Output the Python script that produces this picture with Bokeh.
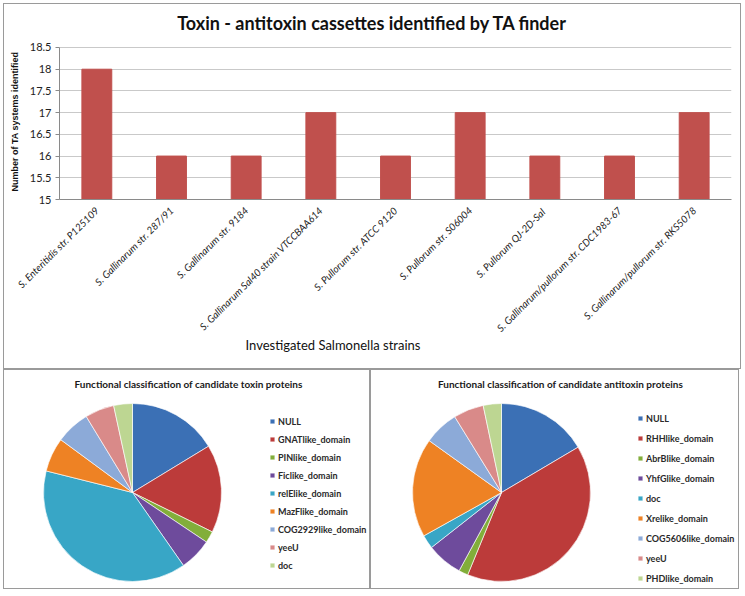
import numpy as np
from bokeh.plotting import figure
from bokeh.models import ColumnDataSource, FactorRange, Range1d, FixedTicker, Label, Title
from bokeh.layouts import column, row
from bokeh.embed import file_html
from bokeh.resources import INLINE

# ---------------- data ----------------
strains = [
    "S. Enteritidis str. P125109",
    "S. Gallinarum str. 287/91",
    "S. Gallinarum str. 9184",
    "S. Gallinarum Sal40 strain VTCCBAA614",
    "S. Pullorum str. ATCC 9120",
    "S. Pullorum str. S06004",
    "S. Pullorum  QJ-2D-Sal",
    "S. Gallinarum/pullorum str. CDC1983-67",
    "S. Gallinarum/pullorum str. RKS5078",
]
ta_counts = [18, 16, 16, 17, 16, 17, 16, 16, 17]
y_ticks = [15, 15.5, 16, 16.5, 17, 17.5, 18, 18.5]
y_tick_labels = ["15", "15.5", "16", "16.5", "17", "17.5", "18", "18.5"]

toxin_classes = ["NULL", "GNATlike_domain", "PINlike_domain", "Ficlike_domain",
                 "relElike_domain", "MazFlike_domain", "COG2929like_domain", "yeeU", "doc"]
toxin_share = [16.3, 16.0, 2.1, 5.9, 38.6, 6.2, 6.2, 5.3, 3.4]

antitoxin_classes = ["NULL", "RHHlike_domain", "AbrBlike_domain", "YhfGlike_domain",
                     "doc", "Xrelike_domain", "COG5606like_domain", "yeeU", "PHDlike_domain"]
antitoxin_share = [16.5, 39.7, 1.7, 6.5, 2.5, 18.0, 6.3, 5.5, 3.3]

slice_colors = ["#3B70B5", "#BC3B3A", "#82AE3A", "#6E4B9C", "#38A6C6",
                "#EE8224", "#8CAAD8", "#D98A89", "#BDD692"]

FONT = "Lato"
BORDER = {"border": "1px solid #9a9a9a"}

# ---------------- bar chart ----------------
# the frame reaches the top of the panel; the value axis stops at 18.5
src = ColumnDataSource(dict(strain=strains, count=ta_counts))
p = figure(x_range=FactorRange(factors=strains, range_padding=0),
           y_range=Range1d(15, 19.49), width=738, height=366,
           output_backend="svg", toolbar_location=None,
           min_border_left=55, min_border_right=11, min_border_top=0,
           min_border_bottom=171, styles=BORDER)
p.vbar(x="strain", top="count", bottom=15, width=0.4, source=src,
       fill_color="#C0504D", line_color="#C0504D")

p.add_layout(Label(x=4.19, y=19.07, text="Toxin - antitoxin cassettes identified by TA finder",
                   text_align="center", text_baseline="middle", text_font=FONT,
                   text_font_size="18px", text_font_style="bold", text_color="#111111"))

p.outline_line_color = None
p.xgrid.grid_line_color = None
p.ygrid.grid_line_color = "#C9C9C9"
p.yaxis.ticker = FixedTicker(ticks=y_ticks)
p.yaxis.bounds = (15, 18.5)
p.yaxis.major_label_overrides = dict(zip(y_ticks, y_tick_labels))
p.yaxis.minor_tick_line_color = None
p.yaxis.major_tick_in = 0
p.yaxis.major_tick_out = 4
p.yaxis.major_label_standoff = 4
p.axis.axis_line_color = "#8A8A8A"
p.axis.major_tick_line_color = "#8A8A8A"
p.axis.major_label_text_font = FONT
p.axis.major_label_text_font_size = "11px"
p.axis.major_label_text_color = "#222222"
p.xaxis.major_label_orientation = np.pi / 4
p.xaxis.major_label_text_font_style = "italic"
p.xaxis.major_label_text_font_size = "10px"
p.xaxis.major_tick_line_color = None
p.xaxis.major_label_standoff = 3

p.add_layout(Title(text="Number of TA systems identified", align="left", offset=8,
                   vertical_align="top", text_font="Liberation Sans",
                   text_font_size="9px", text_font_style="bold",
                   text_color="#111111", standoff=10), "left")

p.add_layout(Title(text="Investigated  Salmonella strains", align="left", offset=186,
                   vertical_align="top", text_font=FONT, text_font_size="13px",
                   text_font_style="normal", text_color="#111111", standoff=-10), "below")


# ---------------- pies ----------------
def pie_fig(title, classes, shares, w, h, cx, cy, r, tx, leg_x, leg_y, spacing):
    f = figure(width=w, height=h, x_range=Range1d(0, w), y_range=Range1d(0, h),
               output_backend="svg", toolbar_location=None, min_border=0,
               x_axis_location=None, y_axis_location=None, styles=BORDER)
    f.grid.visible = False
    f.outline_line_color = None
    frac = np.array(shares, dtype=float) / sum(shares)
    cum = np.cumsum(frac)
    start = np.pi / 2 - 2 * np.pi * np.concatenate([[0.0], cum[:-1]])
    end = np.pi / 2 - 2 * np.pi * cum
    s = ColumnDataSource(dict(cat=classes, share=shares, start=start, end=end,
                              color=slice_colors[:len(classes)]))
    f.wedge(x=cx, y=cy, radius=r, start_angle="start", end_angle="end",
            direction="clock", fill_color="color", line_color="white",
            line_width=0.8, line_alpha=0.8, source=s, legend_field="cat")
    f.add_layout(Label(x=tx, y=207, text=title, text_align="center",
                       text_baseline="middle", text_font=FONT, text_font_style="bold",
                       text_font_size="10px", text_color="#1a1a1a"))
    lg = f.legend[0]
    lg.location = (leg_x, leg_y)
    lg.label_text_font = FONT
    lg.label_text_font_size = "9px"
    lg.label_text_font_style = "bold"
    lg.label_text_color = "#2a2a2a"
    lg.glyph_width = 6
    lg.glyph_height = 6
    lg.label_height = 12
    lg.label_standoff = 3
    lg.spacing = spacing
    lg.padding = 0
    lg.margin = 0
    lg.border_line_color = None
    lg.background_fill_alpha = 0
    return f


f1 = pie_fig("Functional classification of candidate toxin proteins",
             toxin_classes, toxin_share, 367, 220, 128, 98, 89, 184, 265, 19, 6)
f2 = pie_fig("Functional classification of candidate antitoxin proteins",
             antitoxin_classes, antitoxin_share, 369, 220, 130, 98, 89, 189, 266, 6, 8)

layout = column(p, row(f1, f2), margin=(3, 0, 0, 3))
open("out.html", "w").write(file_html(layout, INLINE))
